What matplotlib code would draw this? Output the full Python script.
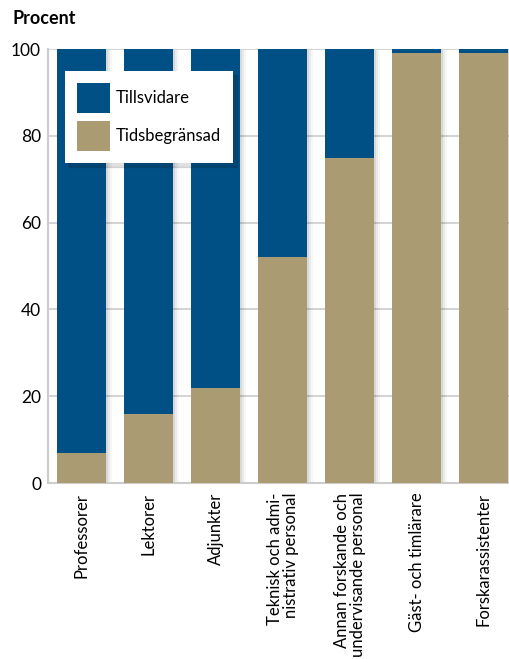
import matplotlib
matplotlib.use("Agg")
import matplotlib.pyplot as plt
import matplotlib.transforms as mtransforms
import numpy as np

categories = ["Professorer", "Lektorer", "Adjunkter",
              "Teknisk och admi-\nnistrativ personal",
              "Annan forskande och\nundervisande personal",
              "Gäst- och timlärare", "Forskarassistenter"]
tidsbegransad = [7, 16, 22, 52, 75, 99, 99]
tillsvidare = [100 - v for v in tidsbegransad]
yticks = [0, 20, 40, 60, 80, 100]

blue = "#004f85"
tan = "#aa9b72"

plt.rcParams['font.family'] = ['Lato', 'DejaVu Sans']

fig = plt.figure(figsize=(5.09, 6.59), dpi=100)
ax = fig.add_axes([48/509, 176/659, 1 - 48/509, (610-176)/659])

x = np.arange(len(categories))
width = 0.73
totals = [a + b for a, b in zip(tidsbegransad, tillsvidare)]

# soft shadows behind bars
for k, (dx, a) in enumerate([(2, 0.07), (4, 0.05), (6, 0.03)]):
    off = mtransforms.offset_copy(ax.transData, fig=fig, x=dx, y=-1, units='dots')
    ax.bar(x, totals, width=width, color='black', alpha=a, transform=off,
           zorder=2, linewidth=0)

b1 = ax.bar(x, tidsbegransad, width=width, color=tan, label="Tidsbegränsad", zorder=3)
b2 = ax.bar(x, tillsvidare, bottom=tidsbegransad, width=width, color=blue,
            label="Tillsvidare", zorder=3)

ax.set_xlim(-0.5, 6.38)
ax.set_ylim(0, 100)
ax.set_yticks(yticks)
ax.set_yticklabels([str(v) for v in yticks], fontsize=12.5)
ax.set_xticks(x)
ax.set_xticklabels(categories, rotation=90, fontsize=12, va='top', ha='center',
                   multialignment='right', linespacing=1.0)
ax.tick_params(axis='both', length=0, pad=5)
ax.tick_params(axis='x', pad=7)
ax.grid(axis='y', color='#cccccc', linewidth=1.2, zorder=0)
for s in ['top', 'right']:
    ax.spines[s].set_visible(False)
for s in ['left', 'bottom']:
    ax.spines[s].set_color('#cccccc')
    ax.spines[s].set_linewidth(1.5)

leg = ax.legend(handles=[b2, b1], labels=["Tillsvidare", "Tidsbegränsad"],
                loc='upper left', bbox_to_anchor=(17/461, 1 - 22/434), fontsize=12,
                frameon=True, fancybox=False,
                shadow={'color': 'black', 'alpha': 0.12, 'ox': 3, 'oy': -3},
                framealpha=1,
                handlelength=2.0, handleheight=2.4, borderpad=0.7,
                labelspacing=0.5, handletextpad=0.35, borderaxespad=0)
leg.get_frame().set_edgecolor('none')
leg.get_frame().set_facecolor('white')
leg.set_zorder(5)

fig.text(12/509, 1 - 19/659, "Procent", fontsize=13, fontweight='bold', va='center', ha='left')

fig.savefig("out.png", dpi=100)
